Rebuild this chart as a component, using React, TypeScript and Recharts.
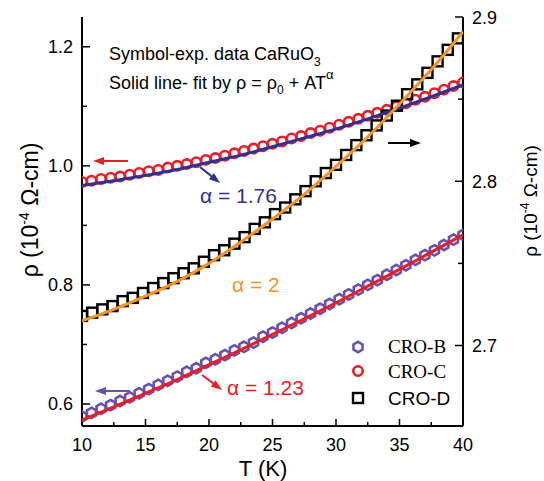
import React from 'react';
import { ComposedChart, Line, XAxis, YAxis } from 'recharts';

const SANS = '"Liberation Sans", Arial, sans-serif';
const SERIF = '"Liberation Serif", "Times New Roman", serif';

const RED = '#ED1C24';
const NAVY = '#2E3192';
const PURPLE = '#6A50B2';
const ORANGE = '#F7931E';

// temperatures (K)
const tBC = [
  10, 10.75, 11.5, 12.25, 13, 13.75, 14.5, 15.25, 16, 16.75, 17.5, 18.25, 19, 19.75,
  20.5, 21.25, 22, 22.75, 23.5, 24.25, 25, 25.75, 26.5, 27.25, 28, 28.75, 29.5, 30.25,
  31, 31.75, 32.5, 33.25, 34, 34.75, 35.5, 36.25, 37, 37.75, 38.5, 39.25, 40,
];
const tD = [
  10, 10.8, 11.6, 12.4, 13.2, 14, 14.8, 15.6, 16.4, 17.2, 18, 18.8, 19.6, 20.4, 21.2,
  22, 22.8, 23.6, 24.4, 25.2, 26, 26.8, 27.6, 28.4, 29.2, 30, 30.8, 31.6, 32.4, 33.2,
  34, 34.8, 35.6, 36.4, 37.2, 38, 38.8, 39.6,
];
const tFit = [10, 12.5, 15, 17.5, 20, 22.5, 25, 27.5, 30, 32.5, 35, 37.5, 40];

// resistivity, left axis (10^-4 ohm-cm)
const rhoC = [
  0.973, 0.975, 0.978, 0.98, 0.982, 0.985, 0.988, 0.991, 0.993, 0.997, 1.0, 1.003, 1.006, 1.01,
  1.013, 1.017, 1.021, 1.025, 1.029, 1.033, 1.037, 1.041, 1.046, 1.05, 1.055, 1.059, 1.064, 1.069,
  1.074, 1.079, 1.084, 1.089, 1.094, 1.1, 1.105, 1.111, 1.116, 1.122, 1.128, 1.134, 1.14,
];
const rhoB = [
  0.579, 0.585, 0.592, 0.598, 0.605, 0.611, 0.618, 0.625, 0.632, 0.639, 0.646, 0.654, 0.66, 0.669,
  0.675, 0.682, 0.69, 0.696, 0.703, 0.713, 0.72, 0.728, 0.736, 0.744, 0.752, 0.76, 0.768, 0.776,
  0.784, 0.792, 0.8, 0.808, 0.817, 0.825, 0.833, 0.842, 0.85, 0.858, 0.867, 0.876, 0.884,
];
// resistivity, right axis
const rhoD = [
  2.718, 2.72, 2.722, 2.724, 2.727, 2.729, 2.732, 2.735, 2.738, 2.741, 2.744, 2.747, 2.751, 2.755,
  2.758, 2.762, 2.766, 2.771, 2.775, 2.78, 2.784, 2.789, 2.794, 2.8, 2.805, 2.81, 2.816, 2.822,
  2.828, 2.834, 2.84, 2.846, 2.853, 2.859, 2.866, 2.873, 2.88, 2.887,
];

// fitted curves rho = rho0 + A*T^alpha
const fitC = [0.967, 0.975, 0.984, 0.994, 1.006, 1.018, 1.032, 1.047, 1.062, 1.079, 1.097, 1.116, 1.136];
const fitB = [0.573, 0.595, 0.618, 0.641, 0.666, 0.691, 0.717, 0.743, 0.77, 0.798, 0.826, 0.855, 0.884];
const fitD = [2.715, 2.722, 2.73, 2.739, 2.75, 2.763, 2.777, 2.792, 2.809, 2.827, 2.847, 2.868, 2.891];

const xTicks = [10, 12.5, 15, 17.5, 20, 22.5, 25, 27.5, 30, 32.5, 35, 37.5, 40];
const leftTicks = [0.6, 0.7, 0.8, 0.9, 1.0, 1.1, 1.2];
const rightTicks = [2.7, 2.75, 2.8, 2.85, 2.9];

const X_DOMAIN: [number, number] = [10, 40];
const L_DOMAIN: [number, number] = [0.563, 1.25];
const R_DOMAIN: [number, number] = [2.651, 2.9];

const rows = (t: number[], v: number[]) => t.map((T, i) => ({ T, v: v[i] }));

const hexPoints = (cx: number, cy: number, r: number) =>
  [0, 1, 2, 3, 4, 5]
    .map((k) => {
      const a = ((60 * k - 90) * Math.PI) / 180;
      return `${cx + r * Math.cos(a)},${cy + r * Math.sin(a)}`;
    })
    .join(' ');

const circleDot = (p: any) =>
  p.cx == null ? null : (
    <circle key={`c${p.index}`} cx={p.cx} cy={p.cy} r={4.7} fill="none" stroke={RED} strokeWidth={2.6} />
  );
const hexDot = (p: any) =>
  p.cx == null ? null : (
    <polygon key={`h${p.index}`} points={hexPoints(p.cx, p.cy, 5.2)} fill="none" stroke={PURPLE} strokeWidth={2.6} />
  );
const squareDot = (p: any) =>
  p.cx == null ? null : (
    <rect key={`s${p.index}`} x={p.cx - 5} y={p.cy - 5} width={10} height={10} fill="none" stroke="#000" strokeWidth={2.4} />
  );

const BottomTick = ({ x, y, payload }: any) => {
  const major = payload.value % 5 === 0;
  return (
    <g>
      <line x1={x} x2={x} y1={y} y2={y - (major ? 7 : 4)} stroke="#000" strokeWidth={1.5} />
      {major && (
        <text x={x} y={y + 25} textAnchor="middle" fontSize={18} fontFamily={SANS} fill="#000">
          {payload.value}
        </text>
      )}
    </g>
  );
};

const TopTick = ({ x, y, payload }: any) => {
  const major = payload.value % 5 === 0;
  return <line x1={x} x2={x} y1={y} y2={y + (major ? 7 : 4)} stroke="#000" strokeWidth={1.5} />;
};

const LeftTick = ({ x, y, payload }: any) => {
  const major = Math.round(payload.value * 10) % 2 === 0;
  return (
    <g>
      <line x1={x} x2={x + (major ? 8 : 5)} y1={y} y2={y} stroke="#000" strokeWidth={1.5} />
      {major && (
        <text x={x - 9} y={y + 6.5} textAnchor="end" fontSize={18} fontFamily={SANS} fill="#000">
          {payload.value.toFixed(1)}
        </text>
      )}
    </g>
  );
};

const RightTick = ({ x, y, payload }: any) => {
  const major = Math.round(payload.value * 100) % 10 === 0;
  return (
    <g>
      <line x1={x} x2={x - (major ? 8 : 5)} y1={y} y2={y} stroke="#000" strokeWidth={1.5} />
      {major && (
        <text x={x + 9} y={y + 6.5} textAnchor="start" fontSize={18} fontFamily={SANS} fill="#000">
          {payload.value.toFixed(1)}
        </text>
      )}
    </g>
  );
};

const Arrow = ({ x1, y1, x2, y2, color }: { x1: number; y1: number; x2: number; y2: number; color: string }) => {
  const a = Math.atan2(y2 - y1, x2 - x1);
  const len = 11;
  const hw = 4;
  const bx = x2 - len * Math.cos(a);
  const by = y2 - len * Math.sin(a);
  const pts = `${x2},${y2} ${bx + hw * Math.sin(a)},${by - hw * Math.cos(a)} ${bx - hw * Math.sin(a)},${by + hw * Math.cos(a)}`;
  return (
    <g>
      <line x1={x1} y1={y1} x2={bx} y2={by} stroke={color} strokeWidth={2} />
      <polygon points={pts} fill={color} />
    </g>
  );
};

const axisLine = { stroke: '#000', strokeWidth: 2 };
const layer: React.CSSProperties = { position: 'absolute', left: 0, top: 0 };

export default function App() {
  return (
    <div style={{ position: 'absolute', left: 0, top: 0, width: 544, height: 481, background: '#fff' }}>
      {/* frame, axes and the measured symbols */}
      <div style={layer}>
        <ComposedChart width={544} height={481} margin={{ top: 17, right: 0, bottom: 0, left: 0 }}>
          <XAxis xAxisId="bottom" dataKey="T" type="number" domain={X_DOMAIN} ticks={xTicks} interval={0} height={55}
            axisLine={axisLine} tickLine={false} tickSize={0} tickMargin={0} tick={<BottomTick />} allowDataOverflow />
          <XAxis xAxisId="top" orientation="top" dataKey="T" type="number" domain={X_DOMAIN} ticks={xTicks} interval={0} height={0}
            axisLine={axisLine} tickLine={false} tickSize={0} tickMargin={0} tick={<TopTick />} allowDataOverflow />
          <YAxis yAxisId="left" dataKey="v" type="number" domain={L_DOMAIN} ticks={leftTicks} interval={0} width={82}
            axisLine={axisLine} tickLine={false} tickSize={0} tickMargin={0} tick={<LeftTick />} allowDataOverflow />
          <YAxis yAxisId="right" orientation="right" dataKey="v" type="number" domain={R_DOMAIN} ticks={rightTicks} interval={0} width={81}
            axisLine={axisLine} tickLine={false} tickSize={0} tickMargin={0} tick={<RightTick />} allowDataOverflow />

          <Line xAxisId="bottom" yAxisId="left" data={rows(tBC, rhoC)} dataKey="v" stroke="none" dot={circleDot} activeDot={false} isAnimationActive={false} />
          <Line xAxisId="bottom" yAxisId="left" data={rows(tBC, rhoB)} dataKey="v" stroke="none" dot={hexDot} activeDot={false} isAnimationActive={false} />
          <Line xAxisId="bottom" yAxisId="right" data={rows(tD, rhoD)} dataKey="v" stroke="none" dot={squareDot} activeDot={false} isAnimationActive={false} />
        </ComposedChart>
      </div>

      {/* fitted curves drawn over the symbols */}
      <div style={layer}>
        <ComposedChart width={544} height={481} margin={{ top: 17, right: 81, bottom: 55, left: 82 }}>
          <XAxis xAxisId="bottom" dataKey="T" type="number" domain={X_DOMAIN} hide allowDataOverflow />
          <YAxis yAxisId="left" dataKey="v" type="number" domain={L_DOMAIN} hide allowDataOverflow />
          <YAxis yAxisId="right" dataKey="v" type="number" domain={R_DOMAIN} hide allowDataOverflow />
          <Line xAxisId="bottom" yAxisId="left" data={rows(tFit, fitC)} dataKey="v" type="monotone" stroke={NAVY} strokeWidth={3} dot={false} activeDot={false} isAnimationActive={false} />
          <Line xAxisId="bottom" yAxisId="left" data={rows(tFit, fitB)} dataKey="v" type="monotone" stroke={RED} strokeWidth={3} dot={false} activeDot={false} isAnimationActive={false} />
          <Line xAxisId="bottom" yAxisId="right" data={rows(tFit, fitD)} dataKey="v" type="monotone" stroke={ORANGE} strokeWidth={3} dot={false} activeDot={false} isAnimationActive={false} />
        </ComposedChart>
      </div>

      <svg width={544} height={481} style={{ ...layer, pointerEvents: 'none' }} fontFamily={SANS}>
        <text x={109} y={60} fontSize={18} fill="#000">
          Symbol-exp. data CaRuO<tspan fontSize={12} dy={6}>3</tspan>
        </text>
        <text x={109} y={89} fontSize={18} fill="#000">
          Solid line- fit by ρ = ρ<tspan fontSize={12} dy={5}>0</tspan>
          <tspan dy={-5}> + AT</tspan>
          <tspan fontSize={13} dy={-10}>α</tspan>
        </text>

        <text transform="translate(38,210) rotate(-90)" textAnchor="middle" fontSize={23} fill="#000">
          ρ (10<tspan fontSize={14} dy={-9}>-4</tspan>
          <tspan dy={9}> Ω-cm)</tspan>
        </text>
        <text transform="translate(537,201) rotate(-90)" textAnchor="middle" fontSize={19} fill="#000">
          ρ (10<tspan fontSize={12} dy={-8}>-4</tspan>
          <tspan dy={8}> Ω-cm)</tspan>
        </text>
        <text x={263} y={476} textAnchor="middle" fontSize={22} fill="#000">
          T (K)
        </text>

        <Arrow x1={128} y1={161} x2={93} y2={161} color={RED} />
        <Arrow x1={130} y1={391} x2={95} y2={391} color={PURPLE} />
        <Arrow x1={388} y1={143} x2={421} y2={143} color="#000" />
        <Arrow x1={200} y1={167} x2={220} y2={183} color={NAVY} />
        <Arrow x1={202} y1={375} x2={222} y2={390} color={RED} />

        <text x={200} y={203} fontSize={21} fill={NAVY}>α = 1.76</text>
        <text x={232} y={292} fontSize={21} fill={ORANGE}>α = 2</text>
        <text x={227} y={395} fontSize={21} fill={RED}>α = 1.23</text>

        <polygon points={hexPoints(358, 347, 5.2)} fill="none" stroke={PURPLE} strokeWidth={2.6} />
        <circle cx={358} cy={371} r={4.7} fill="none" stroke={RED} strokeWidth={2.6} />
        <rect x={353} y={393} width={10} height={10} fill="none" stroke="#000" strokeWidth={2.4} />
        <text x={388} y={353} fontSize={19} fontFamily={SERIF} fill="#000">CRO-B</text>
        <text x={388} y={378} fontSize={19} fontFamily={SERIF} fill="#000">CRO-C</text>
        <text x={388} y={405} fontSize={19} fill="#000">CRO-D</text>
      </svg>
    </div>
  );
}
